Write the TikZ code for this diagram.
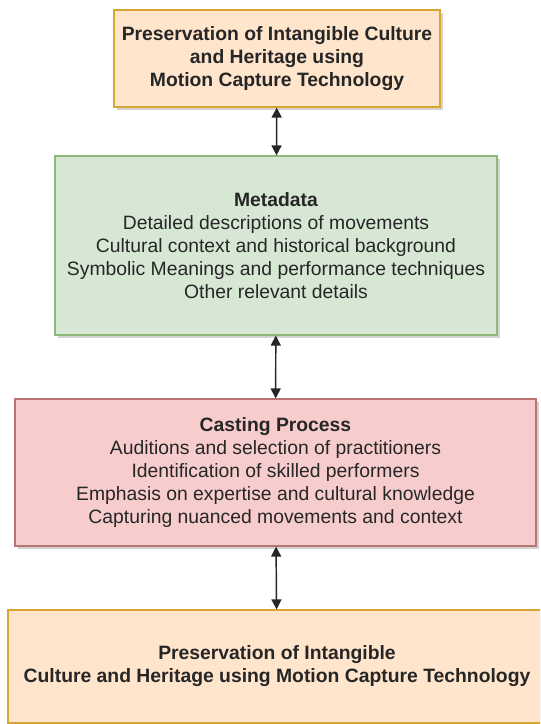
\documentclass[tikz,border=0pt]{standalone}
\usepackage{fontspec}
\setmainfont{Liberation Sans}
\usetikzlibrary{arrows.meta,shadows}
\definecolor{peach}{rgb}{1.0, 0.90, 0.80}
\definecolor{amber}{rgb}{0.85, 0.65, 0.20}
\definecolor{sage}{rgb}{0.84, 0.91, 0.83}
\definecolor{fern}{rgb}{0.55, 0.72, 0.47}
\definecolor{blush}{rgb}{0.97, 0.80, 0.80}
\definecolor{brick}{rgb}{0.72, 0.45, 0.45}
\definecolor{ink}{rgb}{0.15, 0.15, 0.15}
\tikzset{
  box/.style={rectangle, align=center, text=ink, inner sep=0pt, line width=0.9pt,
    font=\fontsize{14.5}{17.3}\selectfont,
    drop shadow={shadow xshift=2pt, shadow yshift=-2pt, fill=gray, opacity=0.35}},
  link/.style={<->, draw=ink, line width=1.1pt}
}

\begin{document}
\begin{tikzpicture}[x=0.75pt, y=-0.75pt, >={Triangle[length=7.5pt, width=7.5pt]}]
            \useasboundingbox (0,0) rectangle (540,724);
            \clip (0,0) rectangle (540,724);

            % Stages
            \node[box, fill=peach, draw=amber, minimum width=244.5pt, minimum height=72.75pt,
                  font=\fontsize{14.5}{17.3}\selectfont\bfseries] (top) at (277,58.5)
                  {Preservation of Intangible Culture\\and Heritage using\\Motion Capture Technology};
            \node[box, fill=sage, draw=fern, minimum width=331.5pt, minimum height=134.25pt] (meta) at (276,245.5)
                  {\textbf{Metadata}\\Detailed descriptions of movements\\Cultural context and historical background\\Symbolic Meanings and performance techniques\\Other relevant details};
            \node[box, fill=blush, draw=brick, minimum width=390.75pt, minimum height=110.25pt] (cast) at (275.5,472.5)
                  {\textbf{Casting Process}\\Auditions and selection of practitioners\\Identification of skilled performers\\Emphasis on expertise and cultural knowledge\\Capturing nuanced movements and context};
            \node[box, fill=peach, draw=amber, minimum width=403.5pt, minimum height=84.75pt,
                  font=\fontsize{14.5}{17.3}\selectfont\bfseries] (bot) at (277,666.5)
                  {Preservation of Intangible\\Culture and Heritage using Motion Capture Technology};

            % Links
            \draw[link] (top) -- (meta);
            \draw[link] (meta) -- (cast);
            \draw[link] (cast) -- (bot);
\end{tikzpicture}
\end{document}
